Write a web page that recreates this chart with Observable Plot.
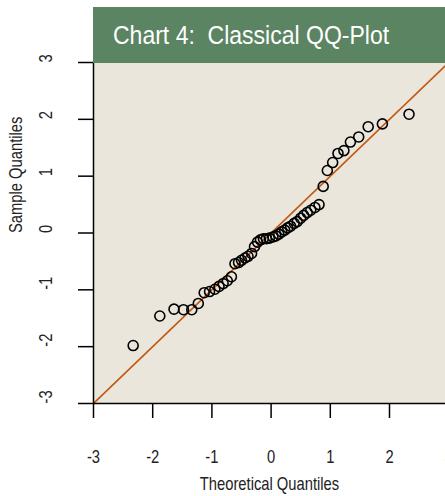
<!DOCTYPE html>
<html>
<head>
<meta charset="utf-8">
<script src="https://cdn.jsdelivr.net/npm/d3@7"></script>
<script src="https://cdn.jsdelivr.net/npm/@observablehq/plot@0.6"></script>
<style>
  html, body { margin: 0; padding: 0; background: #ffffff; }
  #wrap { position: relative; width: 445px; height: 496px; overflow: hidden; }
  #title {
    position: absolute; left: 93px; top: 7px; width: 352px; height: 56px;
    background: #5b8462; color: #ffffff; z-index: 2;
    font-family: "Liberation Sans", Arial, sans-serif;
    font-size: 25px; line-height: 56px; padding-left: 20px; box-sizing: border-box;
    white-space: pre;
  }
  #title span { display: inline-block; transform: scaleX(0.92); transform-origin: 0 50%; }
  #chart { position: absolute; left: 0; top: 0; }
</style>
</head>
<body>
<div id="wrap">
  <div id="title"><span>Chart 4:  Classical QQ-Plot</span></div>
  <div id="chart"></div>
</div>
<script>
// Theoretical quantiles (x) and sample quantiles (y)
const theoretical = [
  -2.33, -1.88, -1.64, -1.48, -1.34, -1.23, -1.13, -1.04, -0.95, -0.88,
  -0.81, -0.74, -0.67, -0.61, -0.55, -0.50, -0.44, -0.39, -0.33, -0.28,
  -0.23, -0.18, -0.13, -0.08, -0.03, 0.03, 0.08, 0.13, 0.18, 0.23,
  0.28, 0.33, 0.39, 0.44, 0.50, 0.55, 0.61, 0.67, 0.74, 0.81,
  0.88, 0.95, 1.04, 1.13, 1.23, 1.34, 1.48, 1.64, 1.88, 2.33
];
const sample = [
  -1.98, -1.46, -1.34, -1.35, -1.35, -1.24, -1.05, -1.03, -0.99, -0.94,
  -0.89, -0.84, -0.77, -0.54, -0.52, -0.48, -0.44, -0.41, -0.36, -0.24,
  -0.16, -0.12, -0.10, -0.10, -0.09, -0.07, -0.05, -0.02, 0.02, 0.05,
  0.09, 0.12, 0.17, 0.20, 0.26, 0.31, 0.36, 0.40, 0.45, 0.50,
  0.82, 1.10, 1.24, 1.40, 1.45, 1.60, 1.69, 1.87, 1.92, 2.09
];
const xTicks = [-3, -2, -1, 0, 1, 2, 3];
const yTicks = [-3, -2, -1, 0, 1, 2, 3];
const xTitle = "Theoretical Quantiles";
const yTitle = "Sample Quantiles";
const refIntercept = 0;
const refSlope = 1;

const points = theoretical.map((x, i) => ({x, y: sample[i]}));
const xDomain = [-3, 2.946];
const refLine = xDomain.map(x => ({x, y: refIntercept + refSlope * x}));

const font = '"Liberation Sans", Arial, sans-serif';
const fmt = d => String(d);

const chart = Plot.plot({
  width: 445,
  height: 496,
  marginTop: 62,
  marginBottom: 93,
  marginLeft: 93,
  marginRight: 0,
  style: {fontFamily: font, fontSize: "18px", color: "#222", background: "transparent", overflow: "visible"},
  x: {domain: xDomain, label: null},
  y: {domain: [-3, 3], label: null},
  marks: [
    Plot.frame({fill: "#eae6dc", stroke: null}),
    Plot.line(refLine, {x: "x", y: "y", stroke: "#c25a14", strokeWidth: 1.6, clip: true}),
    Plot.dot(points, {x: "x", y: "y", r: 5, stroke: "#000", strokeWidth: 1.6, fill: "none"}),
    Plot.ruleX([xDomain[0]], {stroke: "#000", strokeWidth: 1.5}),
    Plot.ruleY([-3], {stroke: "#000", strokeWidth: 1.5}),
    Plot.axisX({ticks: xTicks, tickFormat: fmt, tickSize: 15, tickPadding: 44, fontSize: 18, label: null, stroke: "#000", strokeWidth: 1.5, fill: "#222"}),
    Plot.axisY({ticks: yTicks, tickSize: 15, tickFormat: () => "", label: null, stroke: "#000", strokeWidth: 1.5}),
    Plot.text(yTicks, {y: d => d, text: fmt, frameAnchor: "left", dx: -42, rotate: -90, fontSize: 18, fill: "#222"}),
    Plot.text([xTitle], {text: d => d, frameAnchor: "bottom", dy: 86, fontSize: 18, fill: "#222"}),
    Plot.text([yTitle], {text: d => d, frameAnchor: "left", dx: -72, rotate: -90, fontSize: 18, fill: "#222"})
  ]
});

// Narrow the glyphs (Arial Narrow look) along each text's own direction
for (const t of chart.querySelectorAll("text")) {
  const x = +t.getAttribute("x") || 0;
  const y = +t.getAttribute("y") || 0;
  const T = t.getAttribute("transform") || "";
  t.setAttribute("transform", `${T} translate(${x},${y}) scale(0.82,1)`);
  t.removeAttribute("x");
  t.removeAttribute("y");
}
document.getElementById("chart").appendChild(chart);
</script>
</body>
</html>
